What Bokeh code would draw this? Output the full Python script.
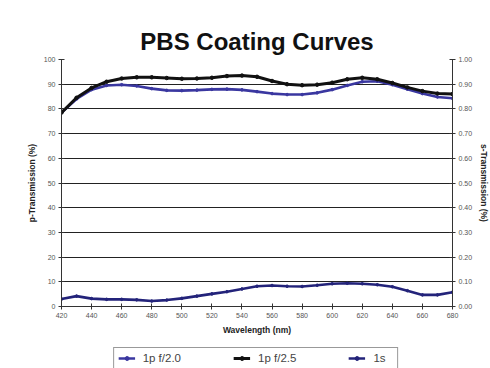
from bokeh.plotting import figure
from bokeh.layouts import column
from bokeh.models import (Range1d, LinearAxis, FixedTicker, PrintfTickFormatter,
                          Legend, LegendItem)
from bokeh.embed import file_html
from bokeh.resources import INLINE

# ---- data ----
wavelength = [420, 430, 440, 450, 460, 470, 480, 490, 500, 510, 520, 530, 540, 550,
              560, 570, 580, 590, 600, 610, 620, 630, 640, 650, 660, 670, 680]
p_f20 = [78.5, 84.0, 87.8, 89.5, 89.8, 89.3, 88.2, 87.5, 87.4, 87.6, 87.9, 88.0, 87.7, 87.0,
         86.2, 85.8, 85.8, 86.5, 87.8, 89.5, 91.0, 91.2, 89.8, 88.0, 86.2, 84.8, 84.3]
p_f25 = [78.5, 84.5, 88.5, 91.0, 92.3, 92.8, 92.8, 92.5, 92.2, 92.3, 92.6, 93.3, 93.5, 93.0,
         91.3, 90.0, 89.6, 89.8, 90.6, 92.0, 92.6, 92.0, 90.5, 88.7, 87.2, 86.2, 86.0]
s_1s = [0.030, 0.042, 0.032, 0.029, 0.029, 0.027, 0.022, 0.026, 0.033, 0.042, 0.051, 0.060,
        0.071, 0.082, 0.085, 0.082, 0.081, 0.086, 0.092, 0.094, 0.092, 0.088, 0.080, 0.064,
        0.047, 0.047, 0.058]
series_names = ["1p f/2.0", "1p f/2.5", "1s"]
x_ticks = [420, 440, 460, 480, 500, 520, 540, 560, 580, 600, 620, 640, 660, 680]
p_ticks = [0, 10, 20, 30, 40, 50, 60, 70, 80, 90, 100]
s_ticks = [0.0, 0.1, 0.2, 0.3, 0.4, 0.5, 0.6, 0.7, 0.8, 0.9, 1.0]
grid_ticks = [10, 20, 30, 40, 50, 60, 70, 80, 90]

FONT = "Liberation Sans"
TICK_COLOR = "#555555"

c20 = "#3a37a0"
c25 = "#111111"
cs = "#23237a"

p = figure(frame_width=391, frame_height=247, output_backend="svg", toolbar_location=None,
           x_range=Range1d(420, 680), y_range=Range1d(0, 100),
           min_border_left=61, min_border_right=38, min_border_top=59, min_border_bottom=0)
p.extra_y_ranges = {"s": Range1d(0, 1)}

p.title.text = "PBS Coating Curves"
p.title.align = "center"
p.title.text_font = FONT
p.title.text_font_size = "24px"
p.title.text_font_style = "bold"
p.title.text_color = "#111111"

p.outline_line_color = None
p.background_fill_color = "white"
p.border_fill_color = "white"

# axes
p.xaxis.ticker = FixedTicker(ticks=x_ticks)
p.yaxis.ticker = FixedTicker(ticks=p_ticks)
p.xaxis.axis_label = "Wavelength (nm)"
p.yaxis.axis_label = "p-Transmission (%)"

s_axis = LinearAxis(y_range_name="s", ticker=FixedTicker(ticks=s_ticks),
                    formatter=PrintfTickFormatter(format="%.2f"),
                    axis_label="s-Transmission (%)")
p.add_layout(s_axis, "right")

for ax in [p.xaxis[0], p.yaxis[0], s_axis]:
    ax.axis_line_color = "#333333"
    ax.major_tick_line_color = "#333333"
    ax.major_tick_in = 3
    ax.major_tick_out = 3
    ax.minor_tick_line_color = None
    ax.major_label_text_font = FONT
    ax.major_label_text_font_size = "7px"
    ax.major_label_text_color = TICK_COLOR
    ax.major_label_standoff = 3
    ax.axis_label_text_font = FONT
    ax.axis_label_text_font_size = "8.5px"
    ax.axis_label_text_font_style = "bold"
    ax.axis_label_text_color = "#222222"
    ax.axis_label_standoff = 4

p.xgrid.grid_line_color = None
p.ygrid.ticker = FixedTicker(ticks=grid_ticks)
p.ygrid.grid_line_color = "#222222"
p.ygrid.grid_line_width = 1

# series
p.line(wavelength, p_f20, line_color=c20, line_width=2.6)
p.scatter(wavelength, p_f20, marker="circle", size=2.6, color=c20)
p.line(wavelength, p_f25, line_color=c25, line_width=3)
p.scatter(wavelength, p_f25, marker="circle", size=3.5, color=c25)
p.line(wavelength, s_1s, line_color=cs, line_width=2.6, y_range_name="s")
p.scatter(wavelength, s_1s, marker="circle", size=2.6, color=cs, y_range_name="s")

# legend strip below the chart (series drawn outside its view, used only for legend glyphs)
lg = figure(width=490, height=32, output_backend="svg", toolbar_location=None,
            x_range=Range1d(0, 1), y_range=Range1d(0, 1),
            x_axis_location=None, y_axis_location=None, min_border=0)
lg.outline_line_color = None
lg.xgrid.grid_line_color = None
lg.ygrid.grid_line_color = None
lg.border_fill_color = "white"
l20 = lg.line(wavelength, p_f20, line_color=c20, line_width=2.6)
m20 = lg.scatter(wavelength, p_f20, marker="circle", size=2.6, color=c20)
l25 = lg.line(wavelength, p_f25, line_color=c25, line_width=3)
m25 = lg.scatter(wavelength, p_f25, marker="circle", size=3.5, color=c25)
ls = lg.line(wavelength, s_1s, line_color=cs, line_width=2.6)
ms = lg.scatter(wavelength, s_1s, marker="circle", size=2.6, color=cs)

legend = Legend(items=[LegendItem(label=series_names[0], renderers=[l20, m20]),
                       LegendItem(label=series_names[1], renderers=[l25, m25]),
                       LegendItem(label=series_names[2], renderers=[ls, ms])],
                orientation="horizontal", nrows=1, location="bottom_center",
                border_line_color="#333333", border_line_width=1,
                label_text_font=FONT, label_text_font_size="11.5px",
                label_text_color="#444444", glyph_width=17, glyph_height=10,
                label_standoff=8, spacing=52, padding=4, margin=0,
                label_height=10, background_fill_color="white")
lg.add_layout(legend, "center")

layout = column(p, lg, spacing=0)
open("out.html", "w").write(file_html(layout, INLINE))
